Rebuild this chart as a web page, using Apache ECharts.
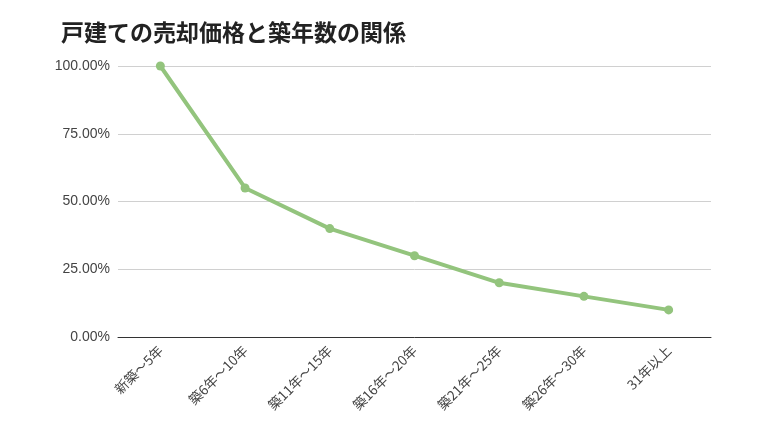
<!DOCTYPE html>
<html lang="ja">
<head>
    <meta charset="UTF-8">
    <script src="https://cdn.jsdelivr.net/npm/echarts@6/dist/echarts.min.js"></script>
    <title>戸建ての売却価格と築年数の関係</title>
    <style>
        html, body { margin: 0; padding: 0; background: #fff; }
    </style>
</head>
<body>
<div id="chart" style="width: 768px;height: 432px"></div>
<script type="text/javascript">
    // 築年数区分
    var categories = ['新築〜5年', '築6年〜10年', '築11年〜15年', '築16年〜20年', '築21年〜25年', '築26年〜30年', '31年以上'];
    // 売却価格の割合 (%)
    var priceRatio = [100, 55, 40, 30, 20, 15, 10];

    var chart = echarts.init(document.getElementById('chart'));
    chart.setOption({
        textStyle: { fontFamily: '"Noto Sans CJK JP", Arial, sans-serif' },
        title: {
            text: '戸建ての売却価格と築年数の関係',
            left: 56,
            top: 16,
            textStyle: {
                fontSize: 23,
                fontWeight: 'bold',
                color: '#222',
                fontFamily: '"Noto Sans CJK JP", sans-serif'
            }
        },
        grid: {
            left: 118,
            right: 57,
            top: 66,
            bottom: 95
        },
        xAxis: {
            type: 'category',
            data: categories,
            boundaryGap: true,
            axisTick: { show: false },
            axisLine: { lineStyle: { color: '#333', width: 1 } },
            axisLabel: {
                rotate: 45,
                interval: 0,
                fontSize: 13.5,
                color: '#444',
                margin: 11,
                fontFamily: '"Noto Sans CJK JP", sans-serif'
            }
        },
        yAxis: {
            type: 'value',
            min: 0,
            max: 100,
            interval: 25,
            axisLine: { show: false },
            axisTick: { show: false },
            splitLine: { lineStyle: { color: '#d0d0d0' } },
            axisLabel: {
                fontSize: 14,
                color: '#444',
                margin: 8,
                fontFamily: 'Arial, "Liberation Sans", sans-serif',
                formatter: function (v) { return v.toFixed(2) + '%'; }
            }
        },
        series: [{
            type: 'line',
            data: priceRatio,
            symbol: 'circle',
            symbolSize: 9,
            lineStyle: { color: '#93c47d', width: 4 },
            itemStyle: { color: '#93c47d' },
            animation: false
        }]
    });
</script>
</body>
</html>
